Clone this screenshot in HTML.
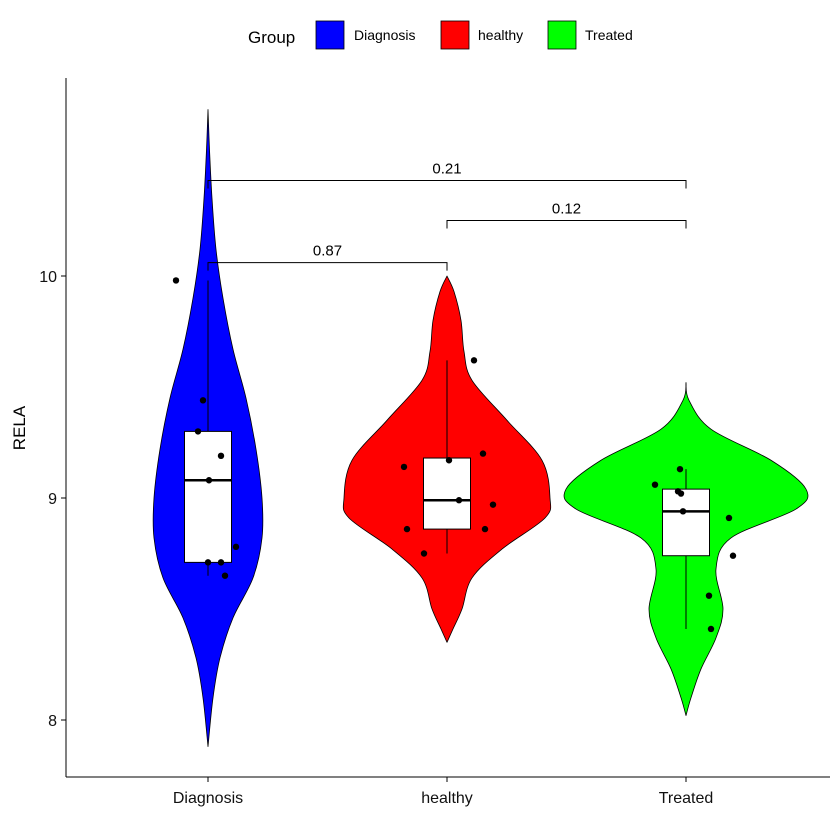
<!DOCTYPE html>
<html><head><meta charset="utf-8"><style>
html,body{margin:0;padding:0;background:#fff}
svg{display:block;font-family:"Liberation Sans",Arial,sans-serif}
</style></head><body>
<svg id="c" width="840" height="840" viewBox="0 0 840 840">
<rect width="840" height="840" fill="#fff"/>
<g id="legend">
<text x="248" y="43" font-size="17" fill="#000">Group</text>
<rect x="316" y="21" width="28" height="28" fill="#0000ff" stroke="#000" stroke-width="0.8"/>
<text x="354" y="40" font-size="14">Diagnosis</text>
<rect x="441" y="21" width="28" height="28" fill="#ff0000" stroke="#000" stroke-width="0.8"/>
<text x="478" y="40" font-size="14">healthy</text>
<rect x="548" y="21" width="28" height="28" fill="#00ff00" stroke="#000" stroke-width="0.8"/>
<text x="585" y="40" font-size="14">Treated</text>
</g>
<g id="plot"></g>
<line x1="66" y1="78" x2="66" y2="777" stroke="#000"/>
<line x1="66" y1="777" x2="830" y2="777" stroke="#000"/>
<text transform="translate(25,428) rotate(-90)" text-anchor="middle" font-size="17">RELA</text>
</svg>
<script>
const categories=["Diagnosis","healthy","Treated"];
const colors=["#0000ff","#ff0000","#00ff00"];
const yTicks=[8,9,10];
// violin profiles: value, half-width (density in px)
const violinVals=[
[10.75,10.57,10.35,10.12,9.9,9.67,9.45,9.22,9.0,8.82,8.64,8.46,8.28,8.1,7.88],
[10.0,9.93,9.8,9.66,9.53,9.35,9.17,9.0,8.91,8.77,8.64,8.5,8.41,8.35],
[9.52,9.44,9.31,9.17,9.04,8.95,8.82,8.68,8.5,8.37,8.23,8.1,8.02]];
const violinWidths=[
[0,1.5,4,8,15,25,38,48,54,54,45,25,12,5,0],
[0,7,14,17,25,60,95,103,98,55,25,15,6,0],
[0,3,25,85,120,110,45,30,37,30,15,5,0]];
// box stats: lowWhisker,q1,median,q3,highWhisker
const boxStats=[[8.65,8.71,9.08,9.3,9.98],[8.75,8.86,8.99,9.18,9.62],[8.41,8.74,8.94,9.04,9.13]];
const pointVals=[
[9.98,9.44,9.3,9.19,9.08,8.71,8.71,8.78,8.65],
[9.62,9.2,9.17,9.14,8.99,8.97,8.86,8.86,8.75],
[9.13,9.06,9.03,9.02,8.94,8.91,8.74,8.56,8.41]];
const pointJitter=[
[-32,-5,-10,13,1,0,13,28,17],
[27,36,2,-43,12,46,-40,38,-23],
[-6,-31,-8,-5,-3,43,47,23,25]];
const comparisons=[[0,1,"0.87",10.06],[1,2,"0.12",10.25],[0,2,"0.21",10.43]];

const X=i=>208+i*239;
const Y=v=>498-(v-9)*222;
const NS="http://www.w3.org/2000/svg";
const plot=document.getElementById('plot');
function mk(t,a){const e=document.createElementNS(NS,t);for(const k in a)e.setAttribute(k,a[k]);plot.appendChild(e);return e;}
function smooth(pts){
 let d='M'+pts[0][0]+','+pts[0][1];
 for(let k=0;k<pts.length-1;k++){
  const p0=pts[Math.max(0,k-1)],p1=pts[k],p2=pts[k+1],p3=pts[Math.min(pts.length-1,k+2)];
  const c1=[p1[0]+(p2[0]-p0[0])/6,p1[1]+(p2[1]-p0[1])/6];
  const c2=[p2[0]-(p3[0]-p1[0])/6,p2[1]-(p3[1]-p1[1])/6];
  d+='C'+c1[0]+','+c1[1]+' '+c2[0]+','+c2[1]+' '+p2[0]+','+p2[1];
 }
 return d;
}

yTicks.forEach(v=>{
 const l=mk('line',{x1:61,x2:66,y1:Y(v),y2:Y(v),stroke:'#000'});
 
 
 const t=mk('text',{x:57,y:Y(v)+6,'text-anchor':'end','font-size':16,fill:'#111'});
 t.textContent=v;
 
 
});
categories.forEach((c,i)=>{
 const l=mk('line',{x1:X(i),x2:X(i),y1:777,y2:782,stroke:'#000'});
 
 
 const t=mk('text',{x:X(i),y:803,'text-anchor':'middle','font-size':16,fill:'#111'});
 t.textContent=c;
 
 
});
categories.forEach((c,i)=>{
 const vs=violinVals[i],ws=violinWidths[i];
 const right=vs.map((v,k)=>[X(i)+ws[k],Y(v)]);
 const left=vs.map((v,k)=>[X(i)-ws[k],Y(v)]).reverse();
 const dr=smooth(right), dl=smooth(left).replace(/^M/,'L');
 const p=mk('path',{d:dr+dl+'Z',fill:colors[i],stroke:'#000','stroke-width':0.8,'stroke-linejoin':'round'});
 
 
});
categories.forEach((c,i)=>{
 const b=boxStats[i];
 const w1=mk('line',{x1:X(i),x2:X(i),y1:Y(b[4]),y2:Y(b[0]),stroke:'#000','stroke-width':1});
 
 
 const r=mk('rect',{x:X(i)-23.5,y:Y(b[3]),width:47,height:Y(b[1])-Y(b[3]),fill:'#fff',stroke:'#000','stroke-width':1});
 
 
 const m=mk('line',{x1:X(i)-23.5,x2:X(i)+23.5,y1:Y(b[2]),y2:Y(b[2]),stroke:'#000','stroke-width':2.5});
 
 
});
categories.forEach((c,i)=>{
 pointVals[i].forEach((v,k)=>{
  const p=mk('circle',{cx:X(i)+pointJitter[i][k],cy:Y(v),r:3.2,fill:'#000'});
  
  
 });
});
comparisons.forEach(cm=>{
 const x1=X(cm[0]),x2=X(cm[1]),y=Y(cm[3]);
 const p=mk('path',{d:`M${x1},${y+8}V${y}H${x2}V${y+8}`,fill:'none',stroke:'#000','stroke-width':1});
 
 
 const t=mk('text',{x:(x1+x2)/2,y:y-7,'text-anchor':'middle','font-size':15});
 t.textContent=cm[2];
 
 
});
</script>
</body></html>
